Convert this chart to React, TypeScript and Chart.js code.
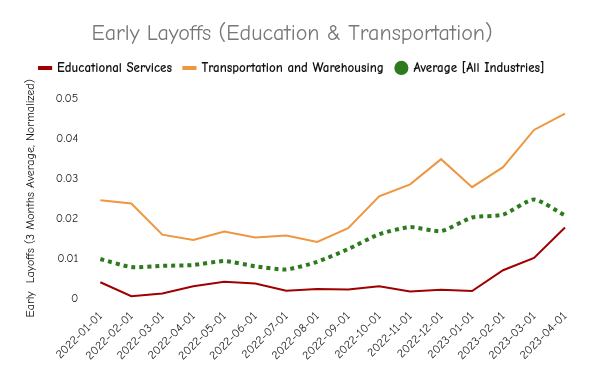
import React, { useEffect, useRef } from "react";
import { Chart, registerables } from "chart.js";

Chart.register(...registerables);

const categories = [
  "2022-01-01", "2022-02-01", "2022-03-01", "2022-04-01", "2022-05-01", "2022-06-01",
  "2022-07-01", "2022-08-01", "2022-09-01", "2022-10-01", "2022-11-01", "2022-12-01",
  "2023-01-01", "2023-02-01", "2023-03-01", "2023-04-01",
];

const educationValues = [
  0.0040, 0.0005, 0.0012, 0.0030, 0.0041, 0.0037, 0.0019, 0.0023,
  0.0022, 0.0030, 0.0017, 0.0021, 0.0018, 0.0070, 0.0101, 0.0177,
];

const transportationValues = [
  0.0245, 0.0237, 0.0159, 0.0146, 0.0167, 0.0152, 0.0157, 0.0141,
  0.0175, 0.0255, 0.0285, 0.0348, 0.0278, 0.0328, 0.0421, 0.0462,
];

const averageValues = [
  0.0098, 0.0078, 0.0081, 0.0083, 0.0093, 0.0080, 0.0072, 0.0091,
  0.0123, 0.0160, 0.0178, 0.0168, 0.0202, 0.0209, 0.0247, 0.0207,
];

const yTicks = [0, 0.01, 0.02, 0.03, 0.04, 0.05];

const FONT = '"Comic Sans MS", "Comic Neue", "Noto Sans", sans-serif';
const RED = "#a00000";
const ORANGE = "#ee9640";
const GREEN = "#2e7a1e";

const legendSpacer = {
  id: "legendSpacer",
  beforeInit(chart: any) {
    const legend = chart.legend;
    if (!legend) return;
    const origFit = legend.fit;
    legend.fit = function () {
      origFit.call(this);
      this.height += 14;
    };
  },
};

export default function App() {
  const ref = useRef<HTMLCanvasElement | null>(null);

  useEffect(() => {
    if (!ref.current) return;
    const chart = new Chart(ref.current, {
      type: "line",
      plugins: [legendSpacer],
      data: {
        labels: categories,
        datasets: [
          {
            label: "Educational Services",
            data: educationValues,
            borderColor: RED,
            backgroundColor: RED,
            borderWidth: 2,
            pointRadius: 0,
            tension: 0,
          },
          {
            label: "Transportation and Warehousing",
            data: transportationValues,
            borderColor: ORANGE,
            backgroundColor: ORANGE,
            borderWidth: 2,
            pointRadius: 0,
            tension: 0,
          },
          {
            label: "Average [All Industries]",
            data: averageValues,
            borderColor: GREEN,
            backgroundColor: GREEN,
            borderWidth: 4,
            borderDash: [4, 4],
            pointRadius: 0,
            tension: 0.2,
          },
        ],
      },
      options: {
        animation: false,
        responsive: true,
        maintainAspectRatio: false,
        layout: { padding: { left: 19, right: 35, top: 10, bottom: 5 } },
        plugins: {
          title: {
            display: true,
            text: "Early Layoffs (Education & Transportation)",
            color: "#777777",
            font: { family: FONT, size: 22, weight: "normal" },
            padding: { top: 11, bottom: 2 },
          },
          legend: {
            display: true,
            labels: {
              color: "#111111",
              font: { family: FONT, size: 13, weight: "bold" },
              usePointStyle: true,
              boxWidth: 11,
              boxHeight: 10,
              padding: 12,
              generateLabels: (c: any) =>
                c.data.datasets.map((ds: any, i: number) => ({
                  text: ds.label,
                  fillStyle: ds.borderColor,
                  strokeStyle: ds.borderColor,
                  lineWidth: i === 2 ? 0 : 4,
                  pointStyle: i === 2 ? "circle" : "line",
                  hidden: false,
                  datasetIndex: i,
                  fontColor: "#111111",
                })),
            },
          },
          tooltip: { enabled: false },
        },
        scales: {
          x: {
            grid: { display: false },
            border: { display: false },
            ticks: {
              color: "#222222",
              font: { family: FONT, size: 12 },
              maxRotation: 45,
              minRotation: 45,
              autoSkip: false,
            },
          },
          y: {
            min: 0,
            max: 0.05,
            grid: { display: false },
            border: { display: false },
            afterBuildTicks: (axis: any) => {
              axis.ticks = yTicks.map((v) => ({ value: v }));
            },
            ticks: {
              color: "#222222",
              font: { family: FONT, size: 12 },
              padding: 14,
              callback: (v: any) => String(Number(v)),
            },
            title: {
              display: true,
              text: "Early  Layoffs (3 Months Average, Normalized)",
              color: "#111111",
              font: { family: FONT, size: 12 },
            },
          },
        },
      },
    });
    return () => chart.destroy();
  }, []);

  return (
    <div style={{ position: "fixed", left: 0, top: 0, width: 600, height: 371, background: "#fff" }}>
      <canvas ref={ref} />
    </div>
  );
}
